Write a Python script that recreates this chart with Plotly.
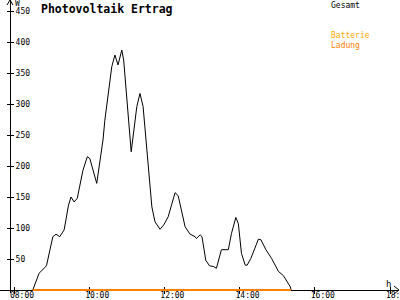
import plotly.graph_objects as go

# ---- data ----
times = ["08:30", "08:40", "08:50", "08:52", "09:02", "09:07", "09:13", "09:20",
         "09:27", "09:31", "09:36", "09:41", "09:50", "09:57", "10:01", "10:12",
         "10:22", "10:25", "10:36", "10:41", "10:46", "10:52", "10:55", "11:07",
         "11:16", "11:21", "11:26", "11:40", "11:45", "11:53", "11:59", "12:06",
         "12:17", "12:22", "12:33", "12:41", "12:49", "12:51", "12:57", "13:00",
         "13:06", "13:12", "13:18", "13:23", "13:31", "13:42", "13:47", "13:54",
         "13:58", "14:03", "14:09", "14:12", "14:18", "14:25", "14:30", "14:34",
         "14:42", "14:51", "15:02", "15:10", "15:21", "15:22"]
gesamt = [0, 27, 37, 40, 86, 90, 86, 97,
          137, 150, 142, 148, 193, 215, 212, 172,
          242, 274, 360, 379, 363, 387, 371, 223,
          296, 317, 296, 134, 110, 98, 105, 118,
          157, 152, 102, 90, 86, 83, 89, 86,
          48, 39, 38, 35, 65, 65, 91, 117,
          107, 59, 40, 40, 51, 70, 82, 81,
          65, 51, 30, 23, 5, 0]
ladung_times = ["08:30", "15:22"]
batterie = [0, 0]
ladung = [0, 0]

x_tickvals = [8, 10, 12, 14, 16, 18]
x_ticktext = ["08:00", "10:00", "12:00", "14:00", "16:00", "18:00"]
y_tickvals = [50, 100, 150, 200, 250, 300, 350, 400, 450]


def to_h(t):
    h, m = t.split(":")
    return int(h) + int(m) / 60.0


xs = [to_h(t) for t in times]
xl = [to_h(t) for t in ladung_times]

W, H = 400, 300
L, R, T, B = 0, 2, 0, 7
pw, ph = W - L - R, H - T - B
x0 = 8 - 14 / 37.6
x1 = x0 + pw / 37.6
ymin = -3 / 0.62
ymax = ymin + ph / 0.62
ypos = 10 / pw
xpos = 3 / ph

mono = "DejaVu Sans Mono"

fig = go.Figure()
fig.add_trace(go.Scatter(x=xs, y=gesamt, mode="lines", name="Gesamt",
                         line=dict(color="black", width=1), showlegend=False))
fig.add_trace(go.Scatter(x=xl, y=batterie, mode="lines", name="Batterie",
                         line=dict(color="#FFAA00", width=2), showlegend=False,
                         xaxis="x2", yaxis="y2"))
fig.add_trace(go.Scatter(x=xl, y=ladung, mode="lines", name="Ladung",
                         line=dict(color="#FF8000", width=2), showlegend=False,
                         xaxis="x2", yaxis="y2"))

axis_common = dict(showgrid=False, zeroline=False, tickcolor="black",
                   layer="below traces", automargin=False,
                   tickfont=dict(family=mono, size=8, color="black"))

fig.update_layout(
    width=W, height=H,
    margin=dict(l=L, r=R, t=T, b=B, autoexpand=False),
    paper_bgcolor="white", plot_bgcolor="white",
    xaxis=dict(range=[x0, x1], tickvals=x_tickvals, ticktext=x_ticktext,
               anchor="free", position=xpos, ticklabeloverflow="allow",
               ticks="outside", ticklen=3, showline=True, linecolor="black",
               linewidth=1, ticklabelshift=8, ticklabelstandoff=-6,
               **axis_common),
    xaxis2=dict(range=[x0, x1], overlaying="x", matches="x", anchor="free",
                position=xpos, tickvals=x_tickvals, ticks="inside", ticklen=3,
                showticklabels=False, showline=False, **axis_common),
    yaxis=dict(range=[ymin, ymax], tickvals=y_tickvals, anchor="free",
               position=ypos, side="right", ticks="outside", ticklen=3,
               showline=True, linecolor="black", linewidth=1,
               ticklabeloverflow="allow",
               **axis_common),
    yaxis2=dict(range=[ymin, ymax], overlaying="y", matches="y", anchor="free",
                position=ypos, side="right", tickvals=y_tickvals,
                ticks="inside", ticklen=3, showticklabels=False,
                showline=False, **axis_common),
)


def px(x):
    return (x - L) / pw


def py(y):
    return (H - B - y) / ph


# arrow heads
fig.add_shape(type="path", xref="paper", yref="paper",
              path=f"M {px(7)} {py(5)} L {px(10)} {py(0)} L {px(13)} {py(5)}",
              line=dict(color="black", width=1))
fig.add_shape(type="path", xref="paper", yref="paper",
              path=f"M {px(394)} {py(286)} L {px(399)} {py(290)} L {px(394)} {py(294)}",
              line=dict(color="black", width=1))

ann = [
    dict(text="<b>Photovoltaik Ertrag</b>", x=40, y=1, size=11.5, color="black"),
    dict(text="W", x=14, y=-2, size=8, color="black"),
    dict(text="h", x=385, y=278, size=9, color="black"),
    dict(text="Gesamt", x=330, y=0, size=8, color="black"),
    dict(text="Batterie", x=330, y=30, size=8, color="#FFAA00"),
    dict(text="Ladung", x=330, y=40, size=8, color="#FF8000"),
]
for a in ann:
    fig.add_annotation(text=a["text"], xref="paper", yref="paper",
                       x=px(a["x"]), y=py(a["y"]), xanchor="left", yanchor="top",
                       showarrow=False, borderpad=0,
                       font=dict(family=mono, size=a["size"], color=a["color"]))

fig.write_html("out.html")
